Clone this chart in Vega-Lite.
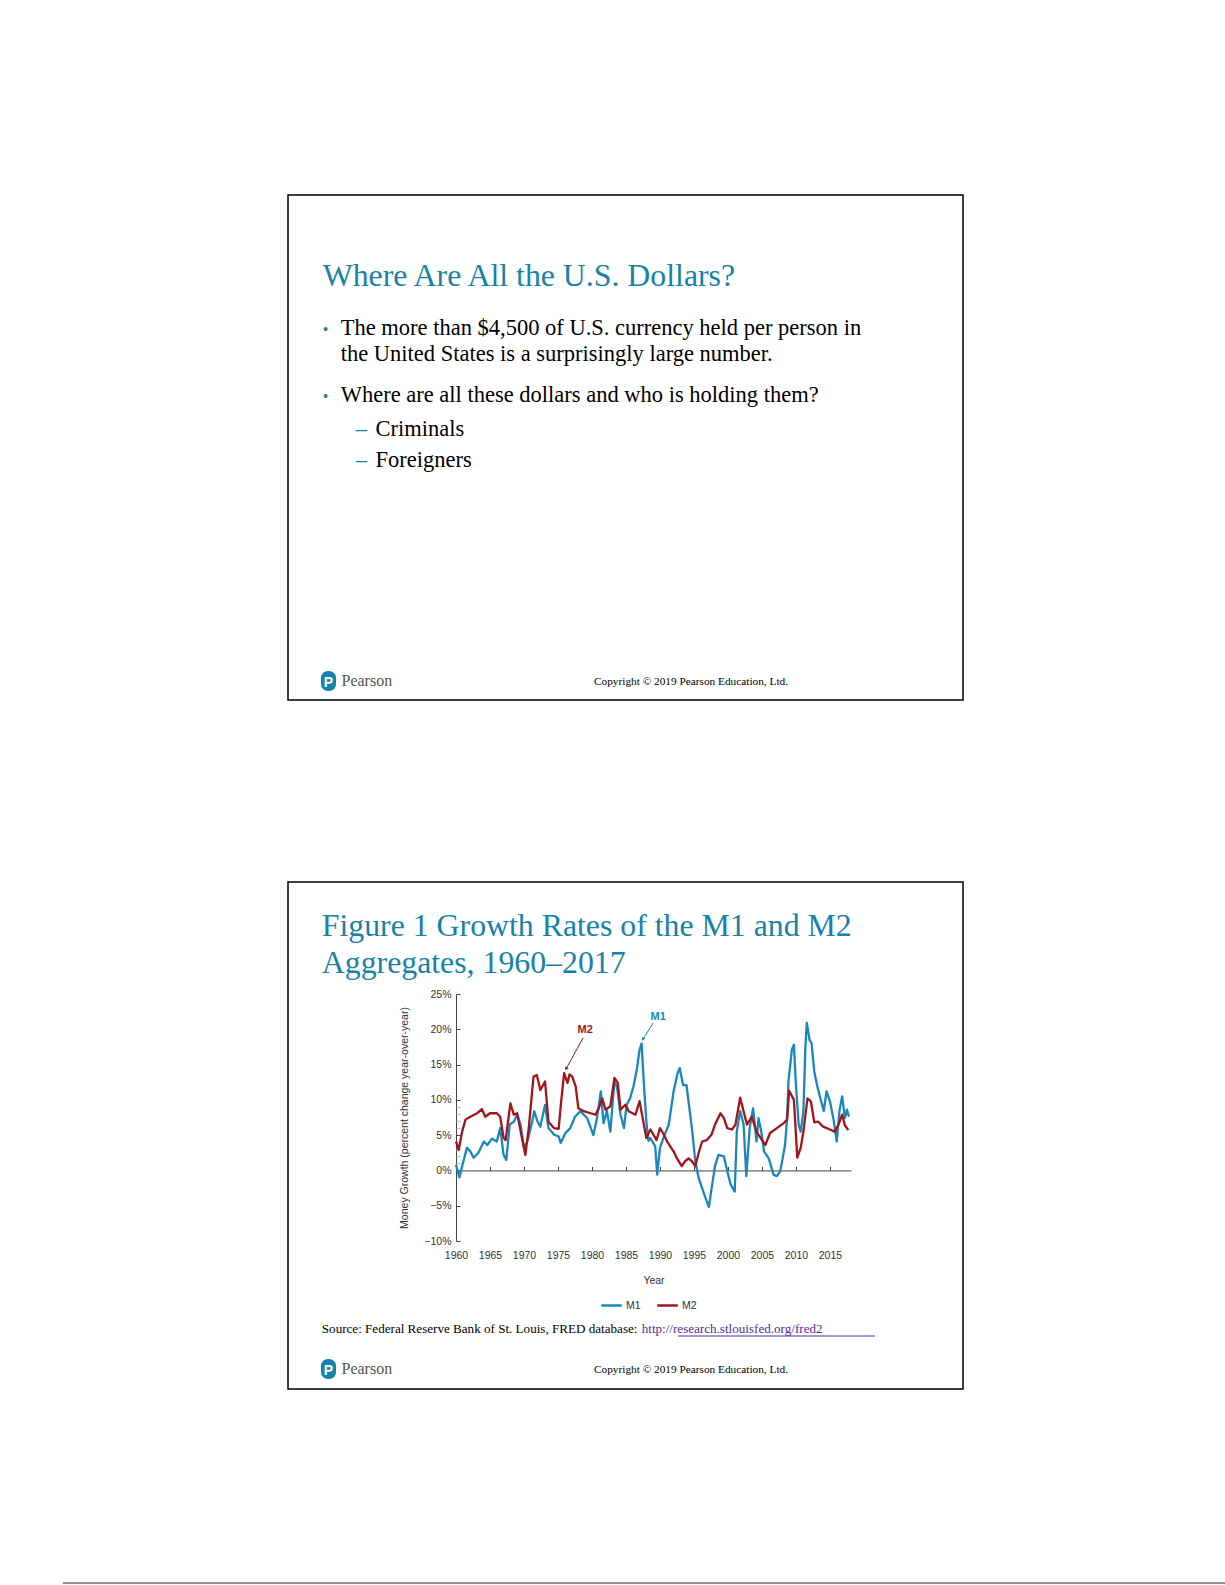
{
  "$schema": "https://vega.github.io/schema/vega-lite/v6.json",
  "width": 395,
  "height": 247,
  "autosize": {"type": "none"},
  "padding": {"left": 456, "top": 994, "right": 374, "bottom": 344},
  "background": "white",
  "config": {
    "view": {"stroke": null},
    "axis": {"grid": false, "labelFont": "Liberation Sans", "titleFont": "Liberation Sans", "labelColor": "#333", "titleColor": "#333", "domainColor": "#444", "tickColor": "#444"}
  },
  "datasets": {
    "money": [
      {"series": "M1", "year": 1960.0, "value": 0.8}, {"series": "M1", "year": 1960.5, "value": -1.0}, {"series": "M1", "year": 1960.9, "value": 0.6},
      {"series": "M1", "year": 1961.6, "value": 3.2}, {"series": "M1", "year": 1962.1, "value": 2.7}, {"series": "M1", "year": 1962.6, "value": 1.8},
      {"series": "M1", "year": 1963.3, "value": 2.5}, {"series": "M1", "year": 1964.1, "value": 4.1}, {"series": "M1", "year": 1964.6, "value": 3.6},
      {"series": "M1", "year": 1965.3, "value": 4.5}, {"series": "M1", "year": 1966.0, "value": 4.1}, {"series": "M1", "year": 1966.5, "value": 6.0},
      {"series": "M1", "year": 1967.0, "value": 2.2}, {"series": "M1", "year": 1967.4, "value": 1.5}, {"series": "M1", "year": 1967.9, "value": 6.5},
      {"series": "M1", "year": 1968.5, "value": 6.9}, {"series": "M1", "year": 1969.0, "value": 7.9}, {"series": "M1", "year": 1969.5, "value": 6.5},
      {"series": "M1", "year": 1970.0, "value": 3.2}, {"series": "M1", "year": 1970.5, "value": 4.1}, {"series": "M1", "year": 1971.2, "value": 6.9},
      {"series": "M1", "year": 1971.5, "value": 8.4}, {"series": "M1", "year": 1972.0, "value": 6.9}, {"series": "M1", "year": 1972.4, "value": 6.2},
      {"series": "M1", "year": 1973.1, "value": 9.3}, {"series": "M1", "year": 1973.6, "value": 6.0}, {"series": "M1", "year": 1974.4, "value": 5.1},
      {"series": "M1", "year": 1975.1, "value": 4.8}, {"series": "M1", "year": 1975.4, "value": 3.9}, {"series": "M1", "year": 1976.1, "value": 5.3},
      {"series": "M1", "year": 1976.8, "value": 6.0}, {"series": "M1", "year": 1977.5, "value": 7.6}, {"series": "M1", "year": 1978.3, "value": 8.4},
      {"series": "M1", "year": 1979.3, "value": 7.4}, {"series": "M1", "year": 1980.2, "value": 5.0}, {"series": "M1", "year": 1980.7, "value": 7.2},
      {"series": "M1", "year": 1981.3, "value": 11.2}, {"series": "M1", "year": 1981.7, "value": 6.7}, {"series": "M1", "year": 1982.2, "value": 8.4},
      {"series": "M1", "year": 1982.7, "value": 5.5}, {"series": "M1", "year": 1983.3, "value": 12.6}, {"series": "M1", "year": 1983.7, "value": 11.7},
      {"series": "M1", "year": 1984.2, "value": 7.9}, {"series": "M1", "year": 1984.7, "value": 6.0}, {"series": "M1", "year": 1985.1, "value": 9.3},
      {"series": "M1", "year": 1985.6, "value": 10.2}, {"series": "M1", "year": 1986.1, "value": 11.9}, {"series": "M1", "year": 1986.6, "value": 14.3},
      {"series": "M1", "year": 1987.0, "value": 17.1}, {"series": "M1", "year": 1987.3, "value": 18.0}, {"series": "M1", "year": 1987.6, "value": 12.8},
      {"series": "M1", "year": 1988.0, "value": 6.9}, {"series": "M1", "year": 1988.3, "value": 4.2}, {"series": "M1", "year": 1988.6, "value": 4.6},
      {"series": "M1", "year": 1989.3, "value": 3.4}, {"series": "M1", "year": 1989.6, "value": -0.6}, {"series": "M1", "year": 1990.0, "value": 3.2},
      {"series": "M1", "year": 1990.5, "value": 4.6}, {"series": "M1", "year": 1991.3, "value": 6.5}, {"series": "M1", "year": 1992.0, "value": 11.2},
      {"series": "M1", "year": 1992.6, "value": 13.8}, {"series": "M1", "year": 1992.9, "value": 14.5}, {"series": "M1", "year": 1993.4, "value": 12.1},
      {"series": "M1", "year": 1993.9, "value": 12.1}, {"series": "M1", "year": 1994.2, "value": 9.8}, {"series": "M1", "year": 1994.7, "value": 6.0},
      {"series": "M1", "year": 1995.2, "value": 1.3}, {"series": "M1", "year": 1995.7, "value": -1.1}, {"series": "M1", "year": 1996.2, "value": -2.5},
      {"series": "M1", "year": 1996.7, "value": -3.9}, {"series": "M1", "year": 1997.2, "value": -5.2}, {"series": "M1", "year": 1997.6, "value": -2.5},
      {"series": "M1", "year": 1998.1, "value": 0.6}, {"series": "M1", "year": 1998.6, "value": 2.2}, {"series": "M1", "year": 1999.4, "value": 2.0},
      {"series": "M1", "year": 1999.9, "value": -0.1}, {"series": "M1", "year": 2000.4, "value": -2.0}, {"series": "M1", "year": 2001.0, "value": -3.0},
      {"series": "M1", "year": 2001.3, "value": 5.5}, {"series": "M1", "year": 2001.8, "value": 8.4}, {"series": "M1", "year": 2002.3, "value": 6.5},
      {"series": "M1", "year": 2002.7, "value": -0.8}, {"series": "M1", "year": 2003.2, "value": 6.0}, {"series": "M1", "year": 2003.7, "value": 8.8},
      {"series": "M1", "year": 2004.2, "value": 4.1}, {"series": "M1", "year": 2004.5, "value": 7.4}, {"series": "M1", "year": 2004.9, "value": 5.5},
      {"series": "M1", "year": 2005.3, "value": 2.7}, {"series": "M1", "year": 2006.0, "value": 1.7}, {"series": "M1", "year": 2006.7, "value": -0.6},
      {"series": "M1", "year": 2007.2, "value": -0.8}, {"series": "M1", "year": 2007.7, "value": -0.1}, {"series": "M1", "year": 2008.4, "value": 3.6},
      {"series": "M1", "year": 2008.7, "value": 7.4}, {"series": "M1", "year": 2008.9, "value": 12.6}, {"series": "M1", "year": 2009.4, "value": 17.1},
      {"series": "M1", "year": 2009.7, "value": 17.8}, {"series": "M1", "year": 2010.0, "value": 12.1}, {"series": "M1", "year": 2010.4, "value": 6.5},
      {"series": "M1", "year": 2010.7, "value": 5.5}, {"series": "M1", "year": 2011.1, "value": 8.4}, {"series": "M1", "year": 2011.4, "value": 17.8},
      {"series": "M1", "year": 2011.6, "value": 20.9}, {"series": "M1", "year": 2012.0, "value": 18.5}, {"series": "M1", "year": 2012.3, "value": 18.0},
      {"series": "M1", "year": 2012.7, "value": 14.0}, {"series": "M1", "year": 2013.1, "value": 12.1}, {"series": "M1", "year": 2013.6, "value": 10.2},
      {"series": "M1", "year": 2014.1, "value": 8.4}, {"series": "M1", "year": 2014.5, "value": 11.2}, {"series": "M1", "year": 2015.0, "value": 9.8},
      {"series": "M1", "year": 2015.5, "value": 7.4}, {"series": "M1", "year": 2016.0, "value": 4.1}, {"series": "M1", "year": 2016.4, "value": 8.4},
      {"series": "M1", "year": 2016.8, "value": 10.5}, {"series": "M1", "year": 2017.2, "value": 7.4}, {"series": "M1", "year": 2017.5, "value": 8.6},
      {"series": "M1", "year": 2017.8, "value": 7.6},
      {"series": "M2", "year": 1960.0, "value": 4.1}, {"series": "M2", "year": 1960.4, "value": 2.9}, {"series": "M2", "year": 1960.9, "value": 5.5},
      {"series": "M2", "year": 1961.4, "value": 7.2}, {"series": "M2", "year": 1962.1, "value": 7.6}, {"series": "M2", "year": 1963.1, "value": 8.1},
      {"series": "M2", "year": 1963.8, "value": 8.7}, {"series": "M2", "year": 1964.3, "value": 7.6}, {"series": "M2", "year": 1965.0, "value": 8.1},
      {"series": "M2", "year": 1966.0, "value": 8.1}, {"series": "M2", "year": 1966.5, "value": 7.6}, {"series": "M2", "year": 1967.0, "value": 4.6},
      {"series": "M2", "year": 1967.3, "value": 4.3}, {"series": "M2", "year": 1968.0, "value": 9.5}, {"series": "M2", "year": 1968.5, "value": 7.9},
      {"series": "M2", "year": 1969.0, "value": 8.1}, {"series": "M2", "year": 1969.7, "value": 4.6}, {"series": "M2", "year": 1970.2, "value": 2.2},
      {"series": "M2", "year": 1970.7, "value": 6.0}, {"series": "M2", "year": 1971.4, "value": 13.3}, {"series": "M2", "year": 1971.9, "value": 13.5},
      {"series": "M2", "year": 1972.4, "value": 11.4}, {"series": "M2", "year": 1973.1, "value": 12.6}, {"series": "M2", "year": 1973.6, "value": 6.9},
      {"series": "M2", "year": 1974.4, "value": 6.0}, {"series": "M2", "year": 1975.1, "value": 5.9}, {"series": "M2", "year": 1975.4, "value": 9.1},
      {"series": "M2", "year": 1975.9, "value": 13.8}, {"series": "M2", "year": 1976.4, "value": 12.4}, {"series": "M2", "year": 1976.7, "value": 13.6},
      {"series": "M2", "year": 1977.1, "value": 13.3}, {"series": "M2", "year": 1977.6, "value": 11.9}, {"series": "M2", "year": 1978.0, "value": 8.8},
      {"series": "M2", "year": 1978.8, "value": 8.4}, {"series": "M2", "year": 1979.8, "value": 8.1}, {"series": "M2", "year": 1980.5, "value": 7.9},
      {"series": "M2", "year": 1981.0, "value": 8.8}, {"series": "M2", "year": 1981.5, "value": 10.2}, {"series": "M2", "year": 1982.0, "value": 8.6},
      {"series": "M2", "year": 1982.7, "value": 9.1}, {"series": "M2", "year": 1983.3, "value": 13.1}, {"series": "M2", "year": 1983.8, "value": 12.4},
      {"series": "M2", "year": 1984.2, "value": 8.6}, {"series": "M2", "year": 1984.9, "value": 9.3}, {"series": "M2", "year": 1985.4, "value": 8.4},
      {"series": "M2", "year": 1986.4, "value": 7.9}, {"series": "M2", "year": 1987.0, "value": 9.8}, {"series": "M2", "year": 1987.5, "value": 7.2},
      {"series": "M2", "year": 1988.0, "value": 4.6}, {"series": "M2", "year": 1988.6, "value": 5.8}, {"series": "M2", "year": 1989.5, "value": 4.3},
      {"series": "M2", "year": 1990.0, "value": 6.0}, {"series": "M2", "year": 1990.5, "value": 5.2}, {"series": "M2", "year": 1991.1, "value": 4.0},
      {"series": "M2", "year": 1992.0, "value": 2.7},
      {"series": "M2", "year": 1992.5, "value": 1.7}, {"series": "M2", "year": 1993.2, "value": 0.6}, {"series": "M2", "year": 1993.7, "value": 1.3},
      {"series": "M2", "year": 1994.2, "value": 1.7}, {"series": "M2", "year": 1994.7, "value": 1.3}, {"series": "M2", "year": 1995.2, "value": 0.6},
      {"series": "M2", "year": 1995.7, "value": 2.5}, {"series": "M2", "year": 1996.2, "value": 4.1}, {"series": "M2", "year": 1996.9, "value": 4.3},
      {"series": "M2", "year": 1997.6, "value": 5.1}, {"series": "M2", "year": 1998.1, "value": 6.5}, {"series": "M2", "year": 1998.9, "value": 8.1},
      {"series": "M2", "year": 1999.4, "value": 7.4}, {"series": "M2", "year": 1999.9, "value": 6.0}, {"series": "M2", "year": 2000.6, "value": 5.8},
      {"series": "M2", "year": 2001.1, "value": 6.5}, {"series": "M2", "year": 2001.8, "value": 10.3}, {"series": "M2", "year": 2002.3, "value": 8.4},
      {"series": "M2", "year": 2002.8, "value": 6.5}, {"series": "M2", "year": 2003.5, "value": 7.6}, {"series": "M2", "year": 2004.3, "value": 5.3},
      {"series": "M2", "year": 2004.8, "value": 4.6}, {"series": "M2", "year": 2005.5, "value": 3.6}, {"series": "M2", "year": 2006.2, "value": 5.3},
      {"series": "M2", "year": 2007.2, "value": 6.0}, {"series": "M2", "year": 2008.2, "value": 6.7}, {"series": "M2", "year": 2008.7, "value": 7.2},
      {"series": "M2", "year": 2009.0, "value": 11.3}, {"series": "M2", "year": 2009.7, "value": 10.0}, {"series": "M2", "year": 2010.2, "value": 1.8},
      {"series": "M2", "year": 2010.7, "value": 3.2}, {"series": "M2", "year": 2011.1, "value": 5.5}, {"series": "M2", "year": 2011.7, "value": 10.2},
      {"series": "M2", "year": 2012.2, "value": 9.8}, {"series": "M2", "year": 2012.7, "value": 6.8}, {"series": "M2", "year": 2013.3, "value": 6.9},
      {"series": "M2", "year": 2014.0, "value": 6.2}, {"series": "M2", "year": 2015.0, "value": 5.8}, {"series": "M2", "year": 2015.7, "value": 5.5},
      {"series": "M2", "year": 2016.3, "value": 6.6}, {"series": "M2", "year": 2016.8, "value": 7.9}, {"series": "M2", "year": 2017.2, "value": 6.4},
      {"series": "M2", "year": 2017.7, "value": 5.7}
    ],
    "labels": [
      {"series": "M2", "label": "M2", "year": 1979.0, "value": 19.9},
      {"series": "M1", "label": "M1", "year": 1989.75, "value": 21.8}
    ],
    "arrows": [
      {"series": "M2", "year": 1978.7, "value": 18.8, "year2": 1976.2, "value2": 14.4},
      {"series": "M1", "year": 1989.0, "value": 20.9, "year2": 1987.5, "value2": 18.6}
    ]
  },
  "layer": [
    {"data": {"values": [{}]}, "mark": {"type": "rect", "filled": false, "stroke": "#000", "strokeWidth": 1.5}, "encoding": {"x": {"value": -168}, "x2": {"value": 507}, "y": {"value": -799}, "y2": {"value": -294}}},
    {"data": {"values": [{}]}, "mark": {"type": "rect", "filled": false, "stroke": "#000", "strokeWidth": 1.5}, "encoding": {"x": {"value": -168}, "x2": {"value": 507}, "y": {"value": -112}, "y2": {"value": 395}}},
    {"data": {"values": [{}]}, "mark": {"type": "rule", "color": "#222", "strokeWidth": 1}, "encoding": {"x": {"value": -393}, "x2": {"value": 769}, "y": {"value": 589}}},

    {"data": {"values": [{}]}, "mark": {"type": "text", "text": "Where Are All the U.S. Dollars?", "font": "Liberation Serif", "fontSize": 31.8, "color": "#1782a8", "align": "left", "baseline": "alphabetic"}, "encoding": {"x": {"value": -133.3}, "y": {"value": -708}}},
    {"data": {"values": [{}]}, "mark": {"type": "text", "text": "•", "font": "Liberation Serif", "fontSize": 16, "color": "#1782a8", "align": "left", "baseline": "alphabetic"}, "encoding": {"x": {"value": -133.3}, "y": {"value": -659}}},
    {"data": {"values": [{}]}, "mark": {"type": "text", "text": "The more than $4,500 of U.S. currency held per person in", "font": "Liberation Serif", "fontSize": 22.5, "color": "#000", "align": "left", "baseline": "alphabetic"}, "encoding": {"x": {"value": -115.3}, "y": {"value": -659}}},
    {"data": {"values": [{}]}, "mark": {"type": "text", "text": "the United States is a surprisingly large number.", "font": "Liberation Serif", "fontSize": 22.5, "color": "#000", "align": "left", "baseline": "alphabetic"}, "encoding": {"x": {"value": -115.3}, "y": {"value": -633.3}}},
    {"data": {"values": [{}]}, "mark": {"type": "text", "text": "•", "font": "Liberation Serif", "fontSize": 16, "color": "#1782a8", "align": "left", "baseline": "alphabetic"}, "encoding": {"x": {"value": -133.3}, "y": {"value": -592.3}}},
    {"data": {"values": [{}]}, "mark": {"type": "text", "text": "Where are all these dollars and who is holding them?", "font": "Liberation Serif", "fontSize": 22.5, "color": "#000", "align": "left", "baseline": "alphabetic"}, "encoding": {"x": {"value": -115.3}, "y": {"value": -592.3}}},
    {"data": {"values": [{}]}, "mark": {"type": "text", "text": "–", "font": "Liberation Serif", "fontSize": 22.5, "color": "#1782a8", "align": "left", "baseline": "alphabetic"}, "encoding": {"x": {"value": -100.3}, "y": {"value": -558}}},
    {"data": {"values": [{}]}, "mark": {"type": "text", "text": "Criminals", "font": "Liberation Serif", "fontSize": 22.5, "color": "#000", "align": "left", "baseline": "alphabetic"}, "encoding": {"x": {"value": -80.5}, "y": {"value": -558}}},
    {"data": {"values": [{}]}, "mark": {"type": "text", "text": "–", "font": "Liberation Serif", "fontSize": 22.5, "color": "#1782a8", "align": "left", "baseline": "alphabetic"}, "encoding": {"x": {"value": -100.3}, "y": {"value": -526.7}}},
    {"data": {"values": [{}]}, "mark": {"type": "text", "text": "Foreigners", "font": "Liberation Serif", "fontSize": 22.5, "color": "#000", "align": "left", "baseline": "alphabetic"}, "encoding": {"x": {"value": -80.5}, "y": {"value": -526.7}}},

    {"data": {"values": [{}]}, "mark": {"type": "rect", "color": "#1782a8", "cornerRadius": 7}, "encoding": {"x": {"value": -135}, "x2": {"value": -120}, "y": {"value": -323}, "y2": {"value": -303}}},
    {"data": {"values": [{}]}, "mark": {"type": "text", "text": "P", "font": "Liberation Sans", "fontWeight": "bold", "fontSize": 14, "color": "white", "align": "center", "baseline": "alphabetic"}, "encoding": {"x": {"value": -127.5}, "y": {"value": -307.5}}},
    {"data": {"values": [{}]}, "mark": {"type": "text", "text": "Pearson", "font": "Liberation Serif", "fontSize": 16, "color": "#555", "align": "left", "baseline": "alphabetic"}, "encoding": {"x": {"value": -114.5}, "y": {"value": -308.5}}},
    {"data": {"values": [{}]}, "mark": {"type": "text", "text": "Copyright © 2019 Pearson Education, Ltd.", "font": "Liberation Serif", "fontSize": 11.3, "color": "#000", "align": "left", "baseline": "alphabetic"}, "encoding": {"x": {"value": 138}, "y": {"value": -309.5}}},

    {"data": {"values": [{}]}, "mark": {"type": "text", "text": "Figure 1 Growth Rates of the M1 and M2", "font": "Liberation Serif", "fontSize": 31.8, "color": "#1782a8", "align": "left", "baseline": "alphabetic"}, "encoding": {"x": {"value": -134.2}, "y": {"value": -58.3}}},
    {"data": {"values": [{}]}, "mark": {"type": "text", "text": "Aggregates, 1960–2017", "font": "Liberation Serif", "fontSize": 31.8, "color": "#1782a8", "align": "left", "baseline": "alphabetic"}, "encoding": {"x": {"value": -134.2}, "y": {"value": -20.7}}},
    {"data": {"values": [{}]}, "mark": {"type": "text", "text": "Source: Federal Reserve Bank of St. Louis, FRED database: ", "font": "Liberation Serif", "fontSize": 13.1, "color": "#000", "align": "left", "baseline": "alphabetic"}, "encoding": {"x": {"value": -134.2}, "y": {"value": 339}}},
    {"data": {"values": [{}]}, "mark": {"type": "text", "text": "http://research.stlouisfed.org/fred2", "font": "Liberation Serif", "fontSize": 13.1, "color": "#4b2e9e", "align": "left", "baseline": "alphabetic"}, "encoding": {"x": {"value": 185.7}, "y": {"value": 339}}},
    {"data": {"values": [{}]}, "mark": {"type": "rule", "color": "#4b2e9e", "strokeWidth": 1}, "encoding": {"x": {"value": 222}, "x2": {"value": 419}, "y": {"value": 342}}},
    {"data": {"values": [{}]}, "mark": {"type": "rect", "color": "#1782a8", "cornerRadius": 7}, "encoding": {"x": {"value": -135}, "x2": {"value": -120}, "y": {"value": 365}, "y2": {"value": 385}}},
    {"data": {"values": [{}]}, "mark": {"type": "text", "text": "P", "font": "Liberation Sans", "fontWeight": "bold", "fontSize": 14, "color": "white", "align": "center", "baseline": "alphabetic"}, "encoding": {"x": {"value": -127.5}, "y": {"value": 380.5}}},
    {"data": {"values": [{}]}, "mark": {"type": "text", "text": "Pearson", "font": "Liberation Serif", "fontSize": 16, "color": "#555", "align": "left", "baseline": "alphabetic"}, "encoding": {"x": {"value": -114.5}, "y": {"value": 379.5}}},
    {"data": {"values": [{}]}, "mark": {"type": "text", "text": "Copyright © 2019 Pearson Education, Ltd.", "font": "Liberation Serif", "fontSize": 11.3, "color": "#000", "align": "left", "baseline": "alphabetic"}, "encoding": {"x": {"value": 138}, "y": {"value": 378.5}}},

    {
      "data": {"name": "money"},
      "mark": {"type": "line", "strokeWidth": 2.3, "strokeJoin": "round"},
      "encoding": {
        "x": {"field": "year", "type": "quantitative", "scale": {"domain": [1960, 2018.1], "nice": false, "zero": false},
              "axis": {"orient": "bottom", "values": [1960, 1965, 1970, 1975, 1980, 1985, 1990, 1995, 2000, 2005, 2010, 2015], "format": "d", "domain": false, "ticks": false, "labelFlush": false, "labelOverlap": false, "labelPadding": 9, "labelFontSize": 10.5, "title": "Year", "titleFontSize": 10.5, "titleFontWeight": "normal", "titlePadding": 15}},
        "y": {"field": "value", "type": "quantitative", "scale": {"domain": [-10, 25], "nice": false, "zero": false},
              "axis": {"orient": "left", "values": [-10, -5, 0, 5, 10, 15, 20, 25], "labelExpr": "(datum.value < 0 ? '\u2212' : '') + abs(datum.value) + '%'", "ticks": false, "domain": true, "labelFlush": false, "labelOverlap": false, "labelPadding": 5, "labelFontSize": 10.5, "title": "Money Growth (percent change year-over-year)", "titleFontSize": 10.5, "titleFontWeight": "normal", "titlePadding": 14}},
        "color": {"field": "series", "type": "nominal", "scale": {"domain": ["M1", "M2"], "range": ["#1987bd", "#a11519"]},
                  "legend": {"orient": "none", "legendX": 144, "legendY": 300, "direction": "horizontal", "title": null, "symbolType": "stroke", "symbolSize": 420, "symbolStrokeWidth": 2.5, "labelFontSize": 10.5, "labelFont": "Liberation Sans", "labelColor": "#333", "columnPadding": 11, "labelOffset": 3, "padding": 0}}
      }
    },
    {
      "data": {"name": "arrows"},
      "mark": {"type": "rule", "strokeWidth": 1},
      "encoding": {
        "x": {"field": "year", "type": "quantitative", "scale": {"domain": [1960, 2018.1], "nice": false, "zero": false},
              "axis": {"orient": "top", "offset": -176.43, "values": [1960, 1965, 1970, 1975, 1980, 1985, 1990, 1995, 2000, 2005, 2010, 2015], "labels": false, "title": null, "domain": true, "domainWidth": 1, "ticks": true, "tickSize": 4}},
        "x2": {"field": "year2"},
        "y": {"field": "value", "type": "quantitative", "scale": {"domain": [-10, 25], "nice": false, "zero": false},
              "axis": {"orient": "right", "offset": -395, "values": [-10, -5, 0, 1, 2, 3, 4, 5, 6, 7, 8, 9, 10, 15, 20, 25], "labels": false, "title": null, "domain": false, "ticks": true, "tickSize": 4,
                       "tickColor": {"condition": {"test": "datum.value % 5 === 0", "value": "#444"}, "value": "#bbb"}}},
        "y2": {"field": "value2"},
        "color": {"field": "series", "type": "nominal", "legend": null}
      }
    },
    {
      "data": {"name": "arrows"},
      "mark": {"type": "point", "shape": "triangle-down", "filled": true, "size": 16, "opacity": 1},
      "encoding": {
        "x": {"field": "year2", "type": "quantitative", "scale": {"domain": [1960, 2018.1], "nice": false, "zero": false}, "axis": null},
        "y": {"field": "value2", "type": "quantitative", "scale": {"domain": [-10, 25], "nice": false, "zero": false}, "axis": null},
        "angle": {"value": 28},
        "color": {"field": "series", "type": "nominal", "legend": null}
      }
    },
    {
      "data": {"name": "labels"},
      "mark": {"type": "text", "font": "Liberation Sans", "fontWeight": "bold", "fontSize": 11, "align": "center", "baseline": "middle"},
      "encoding": {
        "x": {"field": "year", "type": "quantitative", "scale": {"domain": [1960, 2018.1], "nice": false, "zero": false}, "axis": null},
        "y": {"field": "value", "type": "quantitative", "scale": {"domain": [-10, 25], "nice": false, "zero": false}, "axis": null},
        "text": {"field": "label"},
        "color": {"field": "series", "type": "nominal", "legend": null}
      }
    }
  ]
}
